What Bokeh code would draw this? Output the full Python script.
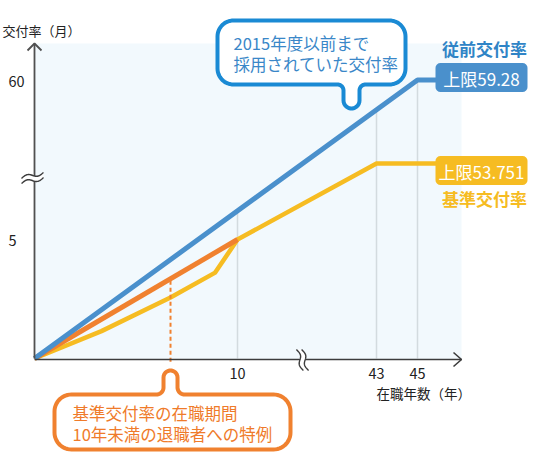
import numpy as np
from bokeh.plotting import figure
from bokeh.models import Range1d
from bokeh.core.properties import value
from bokeh.embed import file_html
from bokeh.resources import INLINE

# ---------------- data ----------------
years_prev = [0, 45, 46]                 # 従前交付率
rate_prev = [0, 59.28, 59.28]
years_std = [0, 3.3, 6.7, 8.9, 10, 43, 46]   # 基準交付率
rate_std = [0, 1.15, 2.56, 3.61, 5.0, 53.751, 53.751]
years_special = [0, 10]                  # 在職10年未満の特例
rate_special = [0, 5.0]
special_marker_year = 6.7
x_ticks = [10, 43, 45]
x_tick_labels = ["10", "43", "45"]
y_ticks = [5, 60]
y_tick_labels = ["5", "60"]
cap_prev_text = "上限59.28"
cap_std_text = "上限53.751"
name_prev = "従前交付率"
name_std = "基準交付率"
callout_prev = ["2015年度以前まで", "採用されていた交付率"]
callout_special = ["基準交付率の在職期間", "10年未満の退職者への特例"]
y_title = "交付率（月）"
x_title = "在職年数（年）"

# ---------------- broken-axis scales (value -> picture px) ----------------
X_ANCH = [0, 10, 43, 60]
X_PIX = [34, 237, 376, 376 + 17 * 20.5]
Y_ANCH = [0, 7.56, 53.751, 59.28, 60, 70]
Y_PIX = [358, 178.1, 163, 79.5, 79, 74]


def bx(v):
    return np.interp(np.asarray(v, dtype=float), X_ANCH, X_PIX)


def by(v):
    return np.interp(np.asarray(v, dtype=float), Y_ANCH, Y_PIX)


FONT = value("Noto Sans CJK JP")
BLUE = "#4a90cc"
BLUE_DARK = "#1a8ad4"
BLUE_TEXT = "#3a87c8"
YELLOW = "#f6bc22"
ORANGE = "#f0812f"
AXIS = "#3c3c3c"

W, H = 528, 452
p = figure(width=W, height=H, x_range=Range1d(0, W), y_range=Range1d(H, 0),
           x_axis_type=None, y_axis_type=None, min_border=0,
           toolbar_location=None, output_backend="svg")
p.outline_line_color = None
p.grid.visible = False
p.background_fill_color = "white"
p.border_fill_color = "white"

X0, XEND, YTOP = float(bx(0)), 461, 43
Y0 = float(by(0))

# plot background
p.quad(left=[X0], right=[XEND], top=[YTOP], bottom=[Y0 + 1], fill_color="#f2f9fd", line_color=None)

# vertical guide lines up to the previous-rate line
bxp, byp = bx(years_prev), by(rate_prev)
gx = bx(x_ticks)
gtop = np.interp(gx, bxp, byp)
p.segment(x0=gx, y0=[Y0] * len(gx), x1=gx, y1=gtop, line_color="#d3dbdf", line_width=1.5)

# series
p.line(bx(years_std), by(rate_std), line_color=YELLOW, line_width=4.5, line_join="round")
p.line(bx(years_special), by(rate_special), line_color=ORANGE, line_width=5, line_join="round")
p.line(bxp, byp, line_color=BLUE, line_width=5, line_join="round")

# dashed marker from the special line down to callout
mx = float(bx(special_marker_year))
my = float(np.interp(mx, bx(years_special), by(rate_special)))
p.segment(x0=[mx], y0=[my + 2], x1=[mx], y1=[363], line_color=ORANGE, line_width=2, line_dash="4 3")

# axes
p.line([X0, X0], [Y0, YTOP], line_color="#505050", line_width=1.8)
p.line([X0 - 7, X0, X0 + 7], [YTOP + 7, YTOP, YTOP + 7], line_color="#505050", line_width=1.8)
p.line([X0, XEND], [Y0 + 1, Y0 + 1], line_color=AXIS, line_width=1.6)
p.line([XEND - 8, XEND, XEND - 8], [Y0 - 6, Y0 + 1, Y0 + 8], line_color=AXIS, line_width=1.6)

# axis break marks
t = np.linspace(0, 1, 30)
yc = 177.5
wx = 21 + 22 * t
wy_up = yc - 2.6 + 3 - 6 * t - 2.2 * np.sin(2 * np.pi * t)
wy_lo = yc + 2.6 + 3 - 6 * t - 2.2 * np.sin(2 * np.pi * t)
p.patch(np.concatenate([wx, wx[::-1]]), np.concatenate([wy_up, wy_lo[::-1]]), fill_color="white", line_color=None)
p.line(wx, wy_up, line_color=AXIS, line_width=1.4)
p.line(wx, wy_lo, line_color=AXIS, line_width=1.4)
xc = 302
vy = 349 + 21 * t
vx_l = xc - 2.6 - 3.5 + 7 * t + 2.2 * np.sin(2 * np.pi * t)
vx_r = xc + 2.6 - 3.5 + 7 * t + 2.2 * np.sin(2 * np.pi * t)
p.patch(np.concatenate([vx_l, vx_r[::-1]]), np.concatenate([vy, vy[::-1]]), fill_color="white", line_color=None)
p.line(vx_l, vy, line_color=AXIS, line_width=1.4)
p.line(vx_r, vy, line_color=AXIS, line_width=1.4)


def arc(cx, cy, r, a0, a1, n=14):
    a = np.radians(np.linspace(a0, a1, n))
    return list(cx + r * np.cos(a)), list(cy + r * np.sin(a))


def join(parts):
    xs, ys = [], []
    for px_, py_ in parts:
        xs += px_
        ys += py_
    return xs, ys


def rrect(x0, y0, x1, y1, r):
    return join([arc(x0 + r, y0 + r, r, 180, 270), arc(x1 - r, y0 + r, r, 270, 360),
                 arc(x1 - r, y1 - r, r, 0, 90), arc(x0 + r, y1 - r, r, 90, 180)])


# blue callout (tail down)
bx0, by0, bx1, by1, br = 217, 20, 405, 84, 16
cx, w, f, yb = 351, 8, 6, 108
xs, ys = join([arc(bx0 + br, by0 + br, br, 180, 270), arc(bx1 - br, by0 + br, br, 270, 360),
               arc(bx1 - br, by1 - br, br, 0, 90),
               arc(cx + w + f, by1 + f, f, 270, 180), arc(cx, yb - w, w, 0, 180),
               arc(cx - w - f, by1 + f, f, 360, 270),
               arc(bx0 + br, by1 - br, br, 90, 180)])
p.patch(xs, ys, fill_color="white", line_color=BLUE_DARK, line_width=4, line_join="round")
p.text(x=[233, 233], y=[42, 63], text=callout_prev, text_font=FONT, text_font_size="16.5px",
       text_color=BLUE_TEXT, text_align="left", text_baseline="middle")

# orange callout (tail up)
ox0, oy0, ox1, oy1, orr = 54, 394, 290, 449, 17
cx, w, f, yt = mx, 7, 7, 370
xs, ys = join([arc(ox0 + orr, oy0 + orr, orr, 180, 270),
               arc(cx - w - f, oy0 - f, f, 90, 0), arc(cx, yt + w, w, 180, 360),
               arc(cx + w + f, oy0 - f, f, 180, 90),
               arc(ox1 - orr, oy0 + orr, orr, 270, 360), arc(ox1 - orr, oy1 - orr, orr, 0, 90),
               arc(ox0 + orr, oy1 - orr, orr, 90, 180)])
p.patch(xs, ys, fill_color="white", line_color=ORANGE, line_width=4, line_join="round")
p.text(x=[72, 72], y=[412, 433], text=callout_special, text_font=FONT, text_font_size="16.5px",
       text_color="#ef7b2a", text_align="left", text_baseline="middle")

# cap label boxes
LX0, LX1 = 435, 527
for yc_box, col, txt in [(77, BLUE, cap_prev_text), (170, YELLOW, cap_std_text)]:
    xs, ys = rrect(LX0, yc_box - 14.5, LX1, yc_box + 14.5, 5)
    p.patch(xs, ys, fill_color=col, line_color=None)
    p.text(x=[(LX0 + LX1) / 2], y=[yc_box + 1], text=[txt], text_font=FONT, text_font_size="17px",
           text_color="white", text_align="center", text_baseline="middle")

p.text(x=[484], y=[48], text=[name_prev], text_font=FONT, text_font_size="17px",
       text_font_style="bold", text_color="#2f84c6", text_align="center", text_baseline="middle")
p.text(x=[484], y=[198], text=[name_std], text_font=FONT, text_font_size="17px",
       text_font_style="bold", text_color=YELLOW, text_align="center", text_baseline="middle")

# tick labels
p.text(x=list(bx(x_ticks)), y=[373] * len(x_ticks), text=x_tick_labels, text_font=FONT,
       text_font_size="14.5px", text_color="#222222", text_align="center", text_baseline="middle")
p.text(x=[8] * len(y_ticks), y=list(by(y_ticks) + np.array([0.5, 2])), text=y_tick_labels, text_font=FONT,
       text_font_size="14.5px", text_color="#222222", text_align="left", text_baseline="middle")

# axis titles
p.text(x=[2], y=[30], text=[y_title], text_font=FONT, text_font_size="13px",
       text_color="#222222", text_align="left", text_baseline="middle")
p.text(x=[376], y=[392], text=[x_title], text_font=FONT, text_font_size="13.5px",
       text_color="#222222", text_align="left", text_baseline="middle")

open("out.html", "w").write(file_html(p, INLINE))
